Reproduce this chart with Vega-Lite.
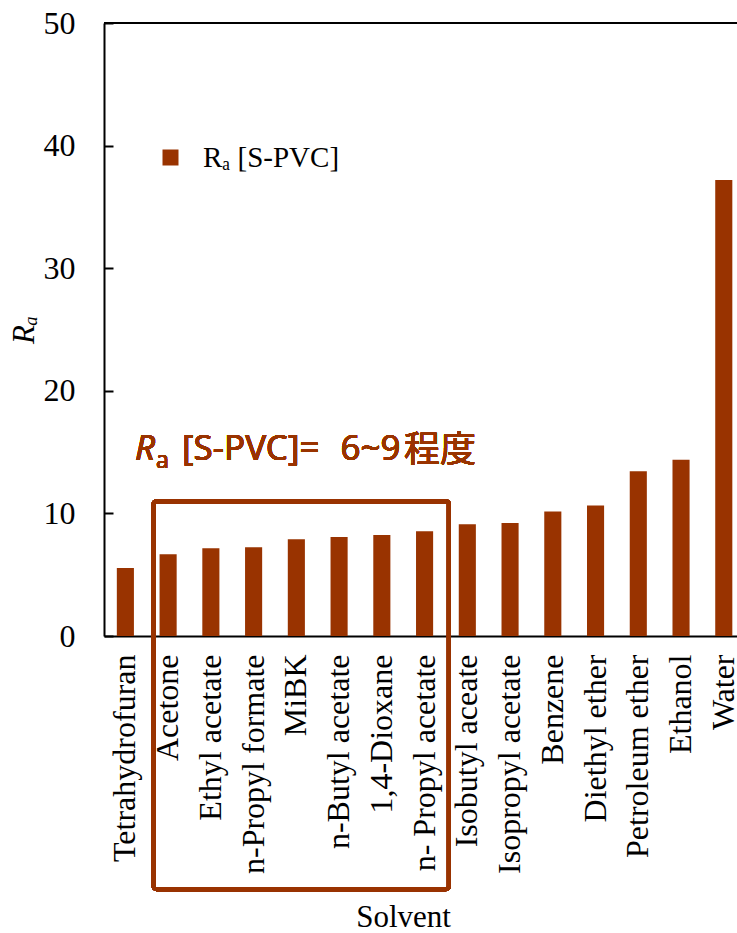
{
  "$schema": "https://vega.github.io/schema/vega-lite/v6.json",
  "autosize": {"type": "none"},
  "padding": {"left": 104, "top": 23, "right": 0, "bottom": 297},
  "width": 633,
  "height": 613,
  "background": "white",
  "config": {
    "view": {"stroke": null},
    "font": "Liberation Serif",
    "axis": {"domainColor": "black", "domainWidth": 2, "grid": false, "labelColor": "black", "titleColor": "black", "labelFont": "Liberation Serif", "titleFont": "Liberation Serif", "labelFontSize": 32, "titleFontSize": 31, "titleFontWeight": "normal", "labelLimit": 0}
  },
  "data": {"values": [
    {"solvent": "Tetrahydrofuran", "Ra": 5.54, "series": "Rₐ [S-PVC]"},
    {"solvent": "Acetone", "Ra": 6.66, "series": "Rₐ [S-PVC]"},
    {"solvent": "Ethyl acetate", "Ra": 7.15, "series": "Rₐ [S-PVC]"},
    {"solvent": "n-Propyl formate", "Ra": 7.24, "series": "Rₐ [S-PVC]"},
    {"solvent": "MiBK", "Ra": 7.89, "series": "Rₐ [S-PVC]"},
    {"solvent": "n-Butyl acetate", "Ra": 8.08, "series": "Rₐ [S-PVC]"},
    {"solvent": "1,4-Dioxane", "Ra": 8.24, "series": "Rₐ [S-PVC]"},
    {"solvent": "n- Propyl acetate", "Ra": 8.54, "series": "Rₐ [S-PVC]"},
    {"solvent": "Isobutyl aceate", "Ra": 9.12, "series": "Rₐ [S-PVC]"},
    {"solvent": "Isopropyl acetate", "Ra": 9.22, "series": "Rₐ [S-PVC]"},
    {"solvent": "Benzene", "Ra": 10.16, "series": "Rₐ [S-PVC]"},
    {"solvent": "Diethyl ether", "Ra": 10.65, "series": "Rₐ [S-PVC]"},
    {"solvent": "Petroleum ether", "Ra": 13.43, "series": "Rₐ [S-PVC]"},
    {"solvent": "Ethanol", "Ra": 14.38, "series": "Rₐ [S-PVC]"},
    {"solvent": "Water", "Ra": 37.19, "series": "Rₐ [S-PVC]"}
  ]},
  "layer": [
    {
      "mark": {"type": "bar"},
      "encoding": {
        "x": {"field": "solvent", "type": "nominal", "sort": null,
          "scale": {"paddingInner": 0.6, "paddingOuter": 0.2047, "align": 0.733},
          "axis": {"title": "Solvent", "labelAngle": -90, "ticks": false, "labelPadding": 18, "titleX": 299, "titleY": 290, "titleAlign": "center", "titleBaseline": "alphabetic"}},
        "y": {"field": "Ra", "type": "quantitative",
          "scale": {"domain": [0, 50], "nice": false},
          "axis": {"title": "Rₐ", "titleFontStyle": "italic", "values": [0, 10, 20, 30, 40, 50], "tickSize": -9, "tickColor": "black", "tickWidth": 2, "labelPadding": 38, "titlePadding": 3}},
        "color": {"field": "series", "type": "nominal", "scale": {"range": ["#993300"]},
          "legend": {"title": null, "orient": "none", "legendX": 52, "legendY": 120, "symbolType": "square", "symbolSize": 256, "symbolStrokeWidth": 0, "labelFont": "Liberation Serif", "labelFontSize": 29, "labelColor": "black", "labelOffset": 18, "padding": 0}}
      }
    },
    {
      "mark": {"type": "rule", "color": "black", "strokeWidth": 2},
      "encoding": {"y": {"datum": 50}}
    },
    {
      "mark": {"type": "rect", "filled": false, "stroke": "#993300", "strokeWidth": 4, "cornerRadius": 3, "clip": false},
      "encoding": {
        "x": {"datum": "Tetrahydrofuran", "bandPosition": 2.15},
        "x2": {"datum": "n- Propyl acetate", "bandPosition": 1.92},
        "y": {"datum": 11.0},
        "y2": {"datum": -20.65}
      }
    },
    {
      "mark": {"type": "text", "text": "R", "font": "Noto Sans", "fontStyle": "italic", "fontSize": 35, "color": "#993300", "align": "left", "baseline": "alphabetic", "clip": false},
      "encoding": {"x": {"datum": "Tetrahydrofuran", "bandPosition": 1.06}, "y": {"datum": 14.36}}
    },
    {
      "mark": {"type": "text", "text": "a", "font": "Noto Sans", "fontSize": 23, "color": "#993300", "align": "left", "baseline": "alphabetic", "dx": 21, "dy": 8, "clip": false},
      "encoding": {"x": {"datum": "Tetrahydrofuran", "bandPosition": 1.06}, "y": {"datum": 14.36}}
    },
    {
      "mark": {"type": "text", "text": "[S-PVC]=\u2002\u200a6~9", "font": "Noto Sans", "fontSize": 35, "color": "#993300", "align": "left", "baseline": "alphabetic", "dx": 47, "clip": false},
      "encoding": {"x": {"datum": "Tetrahydrofuran", "bandPosition": 1.06}, "y": {"datum": 14.36}}
    },
    {
      "mark": {"type": "text", "text": "程度", "font": "Noto Sans CJK JP", "fontSize": 36, "color": "#993300", "align": "right", "baseline": "alphabetic", "dx": 341, "dy": 2, "clip": false},
      "encoding": {"x": {"datum": "Tetrahydrofuran", "bandPosition": 1.06}, "y": {"datum": 14.36}}
    }
  ]
}
